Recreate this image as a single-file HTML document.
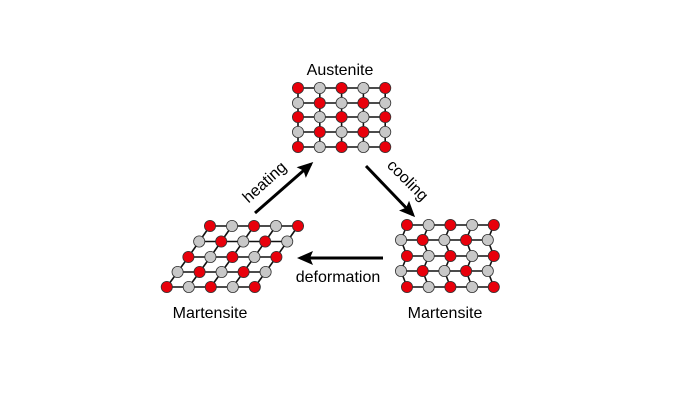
<!DOCTYPE html>
<html><head><meta charset="utf-8"><style>
html,body{margin:0;padding:0;background:#fff;width:700px;height:400px;overflow:hidden}
svg{display:block}
text{font-family:"Liberation Sans",Arial,sans-serif;font-size:16px;fill:#000}
</style></head><body>
<svg id="s" width="700" height="400" viewBox="0 0 700 400">
<defs><marker id="a" markerWidth="16" markerHeight="14" refX="13" refY="7" orient="auto" markerUnits="userSpaceOnUse"><path d="M0,0 L16,7 L0,14 L3,7 Z" fill="#000"/></marker></defs>
<text x="340" y="75" text-anchor="middle">Austenite</text>
<text x="210" y="318" text-anchor="middle">Martensite</text>
<text x="445" y="318" text-anchor="middle">Martensite</text>
<text x="338" y="282" text-anchor="middle">deformation</text>
<text x="0" y="0" text-anchor="middle" transform="translate(268,186) rotate(-42)">heating</text>
<text x="0" y="0" text-anchor="middle" transform="translate(404,184) rotate(45)">cooling</text>
<line x1="255" y1="213" x2="311" y2="164" stroke="#000" stroke-width="3" marker-end="url(#a)"/>
<line x1="366" y1="166" x2="413" y2="215" stroke="#000" stroke-width="3" marker-end="url(#a)"/>
<line x1="383" y1="258" x2="300" y2="258" stroke="#000" stroke-width="3" marker-end="url(#a)"/>
<g id="g"></g>
</svg>
<script>
var g=document.getElementById('g'),NS='http://www.w3.org/2000/svg';
function L(a,b){var l=document.createElementNS(NS,'line');l.setAttribute('x1',a[0]);l.setAttribute('y1',a[1]);l.setAttribute('x2',b[0]);l.setAttribute('y2',b[1]);l.setAttribute('stroke','#111');l.setAttribute('stroke-width','1.6');g.appendChild(l);}
function C(p,r){var c=document.createElementNS(NS,'circle');c.setAttribute('cx',p[0]);c.setAttribute('cy',p[1]);c.setAttribute('r',5.6);c.setAttribute('fill',r?'#e8000b':'#c8c8c8');c.setAttribute('stroke','#333');c.setAttribute('stroke-width','0.8');g.appendChild(c);}
function lattice(P){
 for(var i=0;i<5;i++)for(var j=0;j<5;j++){if(j<4)L(P[i][j],P[i][j+1]);if(i<4)L(P[i][j],P[i+1][j]);}
 for(var i=0;i<5;i++)for(var j=0;j<5;j++)C(P[i][j],(i+j)%2==0);
}
var A=[],B=[],R=[],ry=[88,103,117,132,147];
for(var i=0;i<5;i++){A.push([]);for(var j=0;j<5;j++)A[i].push([298+j*21.8,ry[i]]);}
var by=[226,241.5,257,272,287];
for(var i=0;i<5;i++){B.push([]);for(var j=0;j<5;j++)B[i].push([210-i*10.8+j*22,by[i]]);}
var cy=[225,240,256,271,287];
for(var i=0;i<5;i++){R.push([]);var off=(i%2)?-6:0;for(var j=0;j<5;j++)R[i].push([407+off+j*21.7,cy[i]]);}
lattice(A);lattice(B);lattice(R);
</script>
</body></html>
